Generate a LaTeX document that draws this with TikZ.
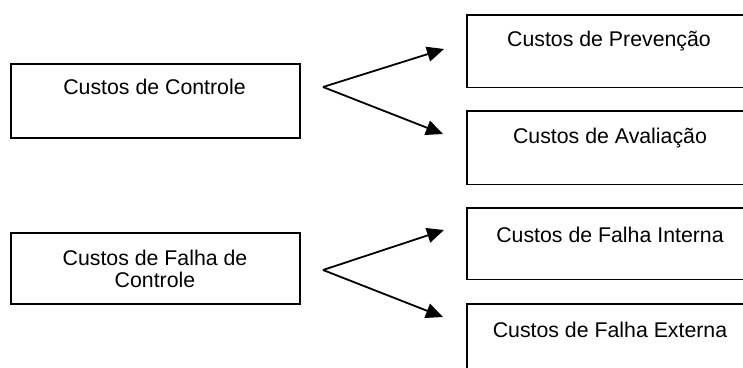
\documentclass[tikz,border=0pt]{standalone}
\usepackage{fontspec}
\setmainfont{Liberation Sans}
\usetikzlibrary{arrows.meta}

\tikzset{
  costbox/.style={draw=black, line width=1.8pt, inner sep=0pt, anchor=north west},
  openbox/.style={inner sep=0pt, anchor=north west, minimum width=340pt},
  boxline/.style={line width=1.8pt},
  costtext/.style={font=\fontsize{21.3}{22.3}\selectfont, inner sep=0pt, anchor=base, align=center},
  branch/.style={line width=1.8pt, -{Triangle[length=17pt,width=15pt]}}
}

\begin{document}
\begin{tikzpicture}[x=1pt, y=-1pt]
  \useasboundingbox (0,0) rectangle (743,367);

  % left-hand groups
  \node (ctrl) [costbox, minimum width=289pt, minimum height=74pt] at (10,63) {};
  \node (ctrlT) [costtext] at (154.5,94) {Custos de Controle};

  \node (fail) [costbox, minimum width=289pt, minimum height=71pt] at (10,232) {};
  \node (failT) [costtext] at (155,287.3) {Custos de Falha de\\Controle};

  % right-hand categories, open towards the right edge
  \node (prev) [openbox, minimum height=72pt] at (467,15) {};
  \node (aval) [openbox, minimum height=73pt] at (467,111) {};
  \node (fint) [openbox, minimum height=71pt] at (467,208) {};
  \node (fext) [openbox, minimum height=80pt] at (467,304) {};
  \foreach \b in {prev,aval,fint,fext}
    \draw[boxline] (\b.north east) -- (\b.north west) -- (\b.south west) -- (\b.south east);

  \node (prevT) [costtext] at (609,46) {Custos de Preven\c{c}\~ao};
  \node (avalT) [costtext] at (610,143) {Custos de Avalia\c{c}\~ao};
  \node (fintT) [costtext] at (610,242) {Custos de Falha Interna};
  \node (fextT) [costtext] at (610,337) {Custos de Falha Externa};

  % branching arrows
  \coordinate (v1) at (323,87);
  \coordinate (t1a) at (444,49);
  \coordinate (t1b) at (443,134);
  \draw[branch] (v1) -- (t1a);
  \draw[branch] (v1) -- (t1b);

  \coordinate (v2) at (323,270);
  \coordinate (t2a) at (444,230);
  \coordinate (t2b) at (443,317);
  \draw[branch] (v2) -- (t2a);
  \draw[branch] (v2) -- (t2b);
\end{tikzpicture}
\end{document}
